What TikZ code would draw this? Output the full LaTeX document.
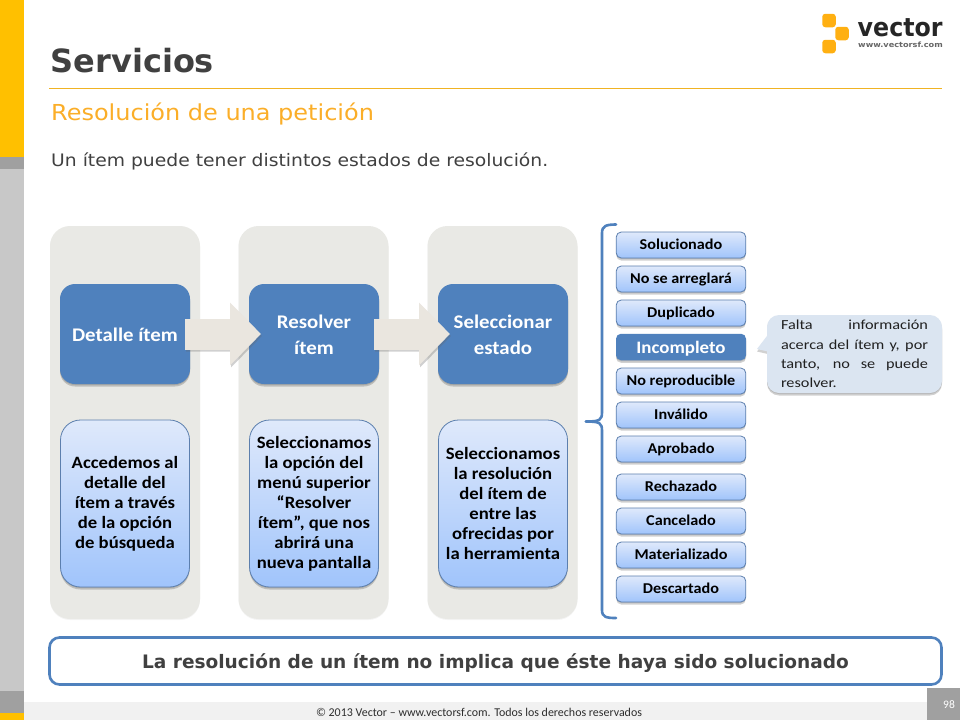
\documentclass[tikz,border=0pt]{standalone}
\usepackage{fontspec}
\setmainfont{Carlito}
\newfontfamily\verd{DejaVu Sans}
\newfontfamily\verdS[FakeStretch=1.09]{DejaVu Sans}
\newfontfamily\logoN[FakeStretch=.93]{DejaVu Sans}
\newfontfamily\logoU[FakeStretch=1.12]{DejaVu Sans}
\newfontfamily\carS[FakeStretch=1.08]{Carlito}
\newfontfamily\carW[FakeStretch=1.18]{Carlito}
\usetikzlibrary{shadows,arrows.meta}
\definecolor{stripO}{HTML}{FFC000}
\definecolor{stripD}{HTML}{A0A0A0}
\definecolor{stripL}{HTML}{C8C8C8}
\definecolor{ruleO}{HTML}{F0B323}
\definecolor{subO}{HTML}{FBAE28}
\definecolor{txtD}{HTML}{404040}
\definecolor{lane}{HTML}{E9E9E5}
\definecolor{blueM}{HTML}{4F81BD}
\definecolor{gradT}{HTML}{DFE9FB}
\definecolor{gradB}{HTML}{A0C4FB}
\definecolor{edgeB}{HTML}{5C7FAE}
\definecolor{arrowF}{HTML}{EAE6DF}
\definecolor{callF}{HTML}{DBE5F1}
\definecolor{footF}{HTML}{F1F1F1}
\definecolor{logoO}{HTML}{FFB012}
\newcommand{\headstrut}{\rule{0pt}{16pt}}
\tikzset{
  softshadow/.style={general shadow={shadow xshift=0pt,shadow yshift=-1pt,fill=black,opacity=.12},
     general shadow={shadow xshift=0pt,shadow yshift=-2.5pt,fill=black,opacity=.18}},
  lanebox/.style={fill=lane,rounded corners=20pt,minimum width=150pt,minimum height=393pt,inner sep=0pt,outer sep=0pt,
     general shadow={shadow xshift=0pt,shadow yshift=-1pt,fill=black,opacity=.04}},
  headbox/.style={fill=blueM,rounded corners=15pt,minimum width=130pt,minimum height=100pt,inner sep=0pt,outer sep=0pt,
     text=white,align=center,font=\carS\fontsize{19.3}{26}\selectfont\bfseries,softshadow},
  detailbox/.style={top color=gradT,bottom color=gradB,draw=edgeB,line width=.8pt,rounded corners=20pt,minimum width=129pt,minimum height=167pt,
     inner sep=0pt,outer sep=0pt,text=black,align=center,font=\carS\fontsize{17.3}{20}\selectfont\bfseries,softshadow},
  statebox/.style={top color=gradT,bottom color=gradB,draw=edgeB,line width=.8pt,rounded corners=5pt,minimum width=129.5pt,minimum height=26pt,
     inner sep=0pt,outer sep=0pt,text=black,text height=10pt,text depth=1pt,font=\carS\fontsize{15}{16}\selectfont\bfseries,softshadow},
  stateon/.style={fill=blueM,rounded corners=5pt,minimum width=130pt,minimum height=26.5pt,inner sep=0pt,outer sep=0pt,
     text=white,text height=12pt,text depth=0pt,font=\carS\fontsize{17.5}{18}\selectfont\bfseries,softshadow},
  blockarrow/.style={line width=31pt,draw=arrowF,-{Triangle[length=31pt,width=61pt,fill=arrowF]}},
  logosq/.style={fill=logoO,rounded corners=3pt,minimum size=13.5pt,inner sep=0pt,outer sep=0pt},
  bracestroke/.style={draw=blueM,line width=2.6pt,line cap=round},
}
\begin{document}
\begin{tikzpicture}[x=1pt,y=-1pt]
\useasboundingbox (0,0) rectangle (960,720);
\fill[white] (0,0) rectangle (960,720);
% left strip
\fill[stripO] (0,0) rectangle (24,157);
\fill[stripD] (0,157) rectangle (24,169);
\fill[stripL] (0,169) rectangle (24,691);
\fill[stripD] (0,691) rectangle (24,713);
\fill[stripO] (0,713) rectangle (24,720);
% footer
\fill[footF] (24,702) rectangle (927,720);
\node[fill=stripD,minimum width=33pt,minimum height=32pt,inner sep=0pt] (pagebox) at (943.5,704) {};
\node[text=white,font=\fontsize{11.5}{13}\selectfont,inner sep=0pt] (pagenum) at (949,705) {98};
\node[font=\fontsize{11.95}{14}\selectfont,text=txtD!70!black,inner sep=0pt] (foot) at (479,712) {© 2013 Vector – www.vectorsf.com. Todos los derechos reservados};
% titles
\node[anchor=base west,inner sep=0pt,text=txtD,font=\verd\fontsize{32}{36}\selectfont\bfseries] (title) at (50.5,72) {Servicios};
\draw[ruleO,line width=1pt] (49,88.5) -- (942,88.5);
\node[anchor=base west,inner sep=0pt,text=subO,font=\verdS\fontsize{22}{26}\selectfont] (subtitle) at (51,120.5) {Resolución de una petición};
\node[anchor=base west,inner sep=0pt,text=txtD,font=\verdS\fontsize{17.2}{20}\selectfont] (desc) at (51,166) {Un ítem puede tener distintos estados de resolución.};
% logo
\node[logosq] (lg1) at (829,20.5) {};
\node[logosq] (lg2) at (842,33.5) {};
\node[logosq] (lg3) at (829,46.5) {};
\node[anchor=base west,inner sep=0pt,text=black!85,font=\logoN\fontsize{25.5}{28}\selectfont\bfseries] (lgname) at (857.5,36) {vector};
\node[anchor=base west,inner sep=0pt,text=black!60,font=\logoU\fontsize{7.3}{9}\selectfont\bfseries] (lgurl) at (858,47.5) {www.vectorsf.com};
% lanes
\node[lanebox] (lane1) at (125,422.5) {};
\node[lanebox] (lane2) at (313.5,422.5) {};
\node[lanebox] (lane3) at (502.5,422.5) {};
% head boxes
\node[headbox] (h1) at (125,334) {\headstrut Detalle ítem};
\node[headbox] (h2) at (314,334) {\headstrut Resolver\\ítem};
\node[headbox] (h3) at (503,334) {\headstrut Seleccionar\\estado};
% block arrows
\begin{scope}[transparency group,opacity=.3]
\draw[line width=31pt,draw=black!60,-{Triangle[length=31pt,width=61pt,fill=black!60]}] ([xshift=-4pt,yshift=-2pt]h1.east) -- ([xshift=13pt,yshift=-2pt]h2.west);
\draw[line width=31pt,draw=black!60,-{Triangle[length=31pt,width=61pt,fill=black!60]}] ([xshift=-4pt,yshift=-2pt]h2.east) -- ([xshift=13pt,yshift=-2pt]h3.west);
\end{scope}
\draw[blockarrow] ([xshift=-5pt]h1.east) -- ([xshift=12pt]h2.west);
\draw[blockarrow] ([xshift=-5pt]h2.east) -- ([xshift=12pt]h3.west);
% detail boxes
\node[detailbox] (d1) at (125,503.5) {Accedemos al\\detalle del\\ítem a través\\de la opción\\de búsqueda};
\node[detailbox] (d2) at (314,503.5) {Seleccionamos\\la opción del\\menú superior\\“Resolver\\ítem”, que nos\\abrirá una\\nueva pantalla};
\node[detailbox] (d3) at (503,503.5) {Seleccionamos\\la resolución\\del ítem de\\entre las\\ofrecidas por\\la herramienta};
% brace
\draw[bracestroke] (616,224.5) .. controls (606,224.5) and (602,226) .. (602,233) -- (602,412) .. controls (602,420) and (600,421.5) .. (586,421.5);
\draw[bracestroke] (586,421.5) .. controls (600,421.5) and (602,423) .. (602,431) -- (602,610) .. controls (602,617) and (606,618) .. (616,618);
% states
\node[statebox] (s1) at (681,245) {Solucionado};
\node[statebox] (s2) at (681,279) {No se arreglará};
\node[statebox] (s3) at (681,313) {Duplicado};
\node[stateon] (s4) at (681,347) {Incompleto};
\node[statebox] (s5) at (681,381) {No reproducible};
\node[statebox] (s6) at (681,415) {Inválido};
\node[statebox] (s7) at (681,449) {Aprobado};
\node[statebox] (s8) at (681,487) {Rechazado};
\node[statebox] (s9) at (681,521) {Cancelado};
\node[statebox] (s10) at (681,555) {Materializado};
\node[statebox] (s11) at (681,589) {Descartado};
% callout
\fill[black,opacity=.18] (770,334.5) -- (757,351.5) -- (770,354.5) -- cycle;
\node[fill=callF,rounded corners=12pt,minimum width=175pt,minimum height=78pt,inner sep=0pt,outer sep=0pt,
   softshadow,font=\carW\fontsize{13.8}{19.3}\selectfont,text=txtD!50!black] (call) at (854.5,354)
   {\parbox{147pt}{\makebox[147pt][s]{Falta\hfill información}\\\makebox[147pt][s]{acerca del ítem y, por}\\\makebox[147pt][s]{tanto, no se puede}\\resolver.}};
\fill[callF] (770,332) -- (757,349) -- (770,352) -- cycle;
% bottom banner
\node[draw=blueM,fill=white,line width=2.6pt,rounded corners=10pt,minimum width=892pt,minimum height=47pt,inner sep=0pt] (banner) at (495.5,661) {};
\node[inner sep=0pt,text=txtD,font=\verd\fontsize{18.55}{20}\selectfont\bfseries] (bannertext) at (495.5,663) {La resolución de un ítem no implica que éste haya sido solucionado};
\end{tikzpicture}
\end{document}
